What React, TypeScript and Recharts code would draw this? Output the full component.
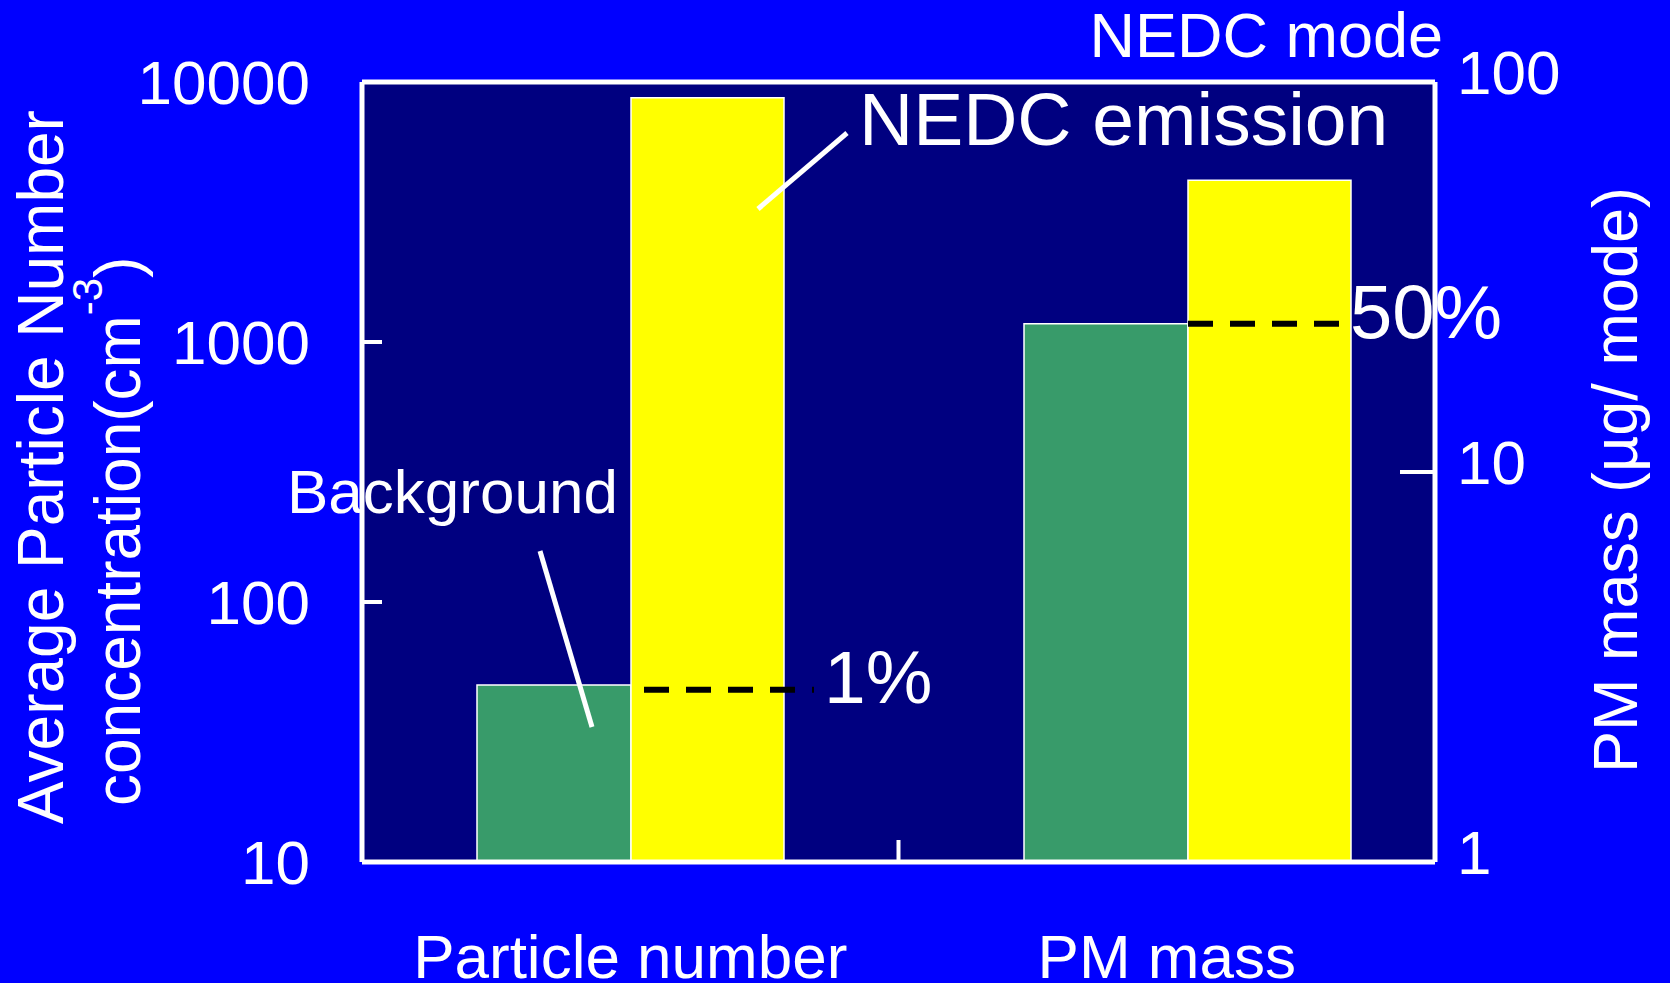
import React from 'react';
import { BarChart, Bar, XAxis, YAxis, CartesianGrid, ReferenceLine } from 'recharts';

// categories and values
const categories = ['Particle number', 'PM mass'];
const pnBackground = [48, null]; // cm^-3, left axis
const pnNedc = [8700, null];
const pmBackground = [null, 24]; // µg/mode, right axis
const pmNedc = [null, 56];

const leftTicks = [10, 100, 1000, 10000];
const rightTicks = [1, 10, 100];

// dashed ratio markers
const pnRatioLevel = 46; // "1%"
const pmRatioLevel = 24; // "50%"

const data = categories.map((cat, i) => ({
  cat,
  pnBackground: pnBackground[i],
  pnNedc: pnNedc[i],
  pmBackground: pmBackground[i],
  pmNedc: pmNedc[i],
}));

const FONT = "'Liberation Sans', Arial, Helvetica, sans-serif";
const WHITE = '#ffffff';
const GREEN = '#389b6a';
const YELLOW = '#ffff00';
const NAVY = '#000080';
const BLUE = '#0000ff';

const LeftTick = ({ x, y, payload }: any) => (
  <text x={x} y={y} dy={22} textAnchor="end" fill={WHITE} fontSize={62} fontFamily={FONT}>
    {payload.value}
  </text>
);

const RightTick = ({ x, y, payload }: any) => (
  <text x={x} y={y} dy={12} textAnchor="start" fill={WHITE} fontSize={62} fontFamily={FONT}>
    {payload.value}
  </text>
);

const BottomTick = ({ x, y, payload }: any) => (
  <text x={x} y={y} dy={116} textAnchor="middle" fill={WHITE} fontSize={62} fontFamily={FONT}>
    {payload.value}
  </text>
);

// dashed black segment along a reference level, starting some px into the plot
const dashShape = (startOffset: number, length: number) => (props: any) => {
  const left = Math.min(props.x1, props.x2);
  return (
    <line
      x1={left + startOffset}
      x2={left + startOffset + length}
      y1={props.y1}
      y2={props.y1}
      stroke="#000"
      strokeWidth={6}
      strokeDasharray="25 17"
    />
  );
};

// short inward tick at the boundary between the two categories
const boundaryTick = (props: any) => {
  const bottom = Math.max(props.y1, props.y2);
  return <line x1={props.x1} x2={props.x1} y1={bottom} y2={bottom - 22} stroke={WHITE} strokeWidth={4} />;
};

const App: React.FC = () => {
  return (
    <div style={{ position: 'absolute', left: 0, top: 0, width: 1670, height: 983, background: BLUE, overflow: 'hidden' }}>
      <BarChart
        width={1670}
        height={983}
        data={data}
        margin={{ top: 82, right: 135, bottom: 21, left: 262 }}
        barGap={0}
      >
        <CartesianGrid xAxisId="a" yAxisId="left" fill={NAVY} fillOpacity={1} horizontal={false} vertical={false} stroke="none" />
        <XAxis
          xAxisId="a"
          dataKey="cat"
          height={100}
          interval={0}
          tickLine={false}
          tickSize={0}
          tickMargin={0}
          axisLine={{ stroke: WHITE, strokeWidth: 5 }}
          tick={<BottomTick />}
        />
        <XAxis xAxisId="b" dataKey="cat" hide padding={{ left: 81, right: 0 }} />
        <YAxis
          yAxisId="left"
          scale="log"
          type="number"
          domain={[10, 10000]}
          ticks={leftTicks}
          allowDataOverflow
          width={100}
          tickSize={-20}
          tickMargin={72}
          axisLine={{ stroke: WHITE, strokeWidth: 5 }}
          tickLine={{ stroke: WHITE, strokeWidth: 4 }}
          tick={<LeftTick />}
        />
        <YAxis
          yAxisId="right"
          orientation="right"
          scale="log"
          type="number"
          domain={[1, 100]}
          ticks={rightTicks}
          allowDataOverflow
          width={100}
          tickSize={-35}
          tickMargin={57}
          axisLine={{ stroke: WHITE, strokeWidth: 5 }}
          tickLine={{ stroke: WHITE, strokeWidth: 4 }}
          tick={<RightTick />}
        />
        <Bar xAxisId="a" yAxisId="left" dataKey="pnBackground" barSize={154} fill={GREEN} stroke={WHITE} strokeWidth={1.5} isAnimationActive={false} />
        <Bar xAxisId="a" yAxisId="left" dataKey="pnNedc" barSize={153} fill={YELLOW} stroke={WHITE} strokeWidth={1.5} isAnimationActive={false} />
        <Bar xAxisId="b" yAxisId="right" dataKey="pmBackground" barSize={164} fill={GREEN} stroke={WHITE} strokeWidth={1.5} isAnimationActive={false} />
        <Bar xAxisId="b" yAxisId="right" dataKey="pmNedc" barSize={163} fill={YELLOW} stroke={WHITE} strokeWidth={1.5} isAnimationActive={false} />
        <ReferenceLine xAxisId="a" yAxisId="left" y={10000} stroke={WHITE} strokeWidth={5} />
        <ReferenceLine xAxisId="a" yAxisId="left" x="PM mass" position="start" shape={boundaryTick} />
        <ReferenceLine xAxisId="a" yAxisId="left" y={pnRatioLevel} shape={dashShape(282, 170)} />
        <ReferenceLine xAxisId="a" yAxisId="right" y={pmRatioLevel} shape={dashShape(826, 151)} />
      </BarChart>

      <svg
        width={1670}
        height={983}
        style={{ position: 'absolute', left: 0, top: 0, pointerEvents: 'none' }}
        fontFamily={FONT}
        fill={WHITE}
      >
        {/* axis titles */}
        <text x={63} y={467} transform="rotate(-90 63 467)" textAnchor="middle" fontSize={64}>
          Average Particle Number
        </text>
        <text x={140} y={806} transform="rotate(-90 140 806)" textAnchor="start" fontSize={64}>
          concentration(cm
          <tspan dy={-38} fontSize={42}>-3</tspan>
          <tspan dy={38}>)</tspan>
        </text>
        <text x={1637} y={480} transform="rotate(-90 1637 480)" textAnchor="middle" fontSize={63}>
          PM mass (µg/ mode)
        </text>

        <text x={1443} y={57} textAnchor="end" fontSize={63}>NEDC mode</text>

        {/* annotations */}
        <text x={859} y={145} fontSize={75}>NEDC emission</text>
        <line x1={847} y1={133} x2={758} y2={209} stroke={WHITE} strokeWidth={5} />
        <text x={287} y={513} fontSize={62}>Background</text>
        <line x1={540} y1={551} x2={592} y2={727} stroke={WHITE} strokeWidth={5} />
        <text x={824} y={703} fontSize={75}>1%</text>
        <text x={1350} y={338} fontSize={76}>50%</text>
      </svg>
    </div>
  );
};

export default App;
